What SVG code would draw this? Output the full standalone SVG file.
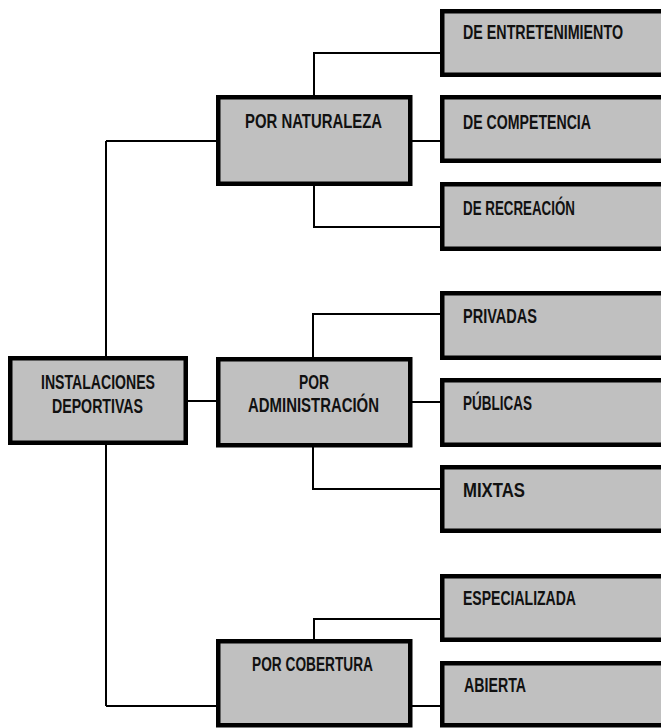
<svg xmlns="http://www.w3.org/2000/svg" width="661" height="728" viewBox="0 0 661 728">
<style>
.box{fill:#c0c0c0;stroke:#000;stroke-width:4.5}
.con{fill:none;stroke:#000;stroke-width:2}
text{font-family:"Liberation Sans Narrow","Liberation Sans",Arial,sans-serif;font-weight:bold;font-size:19.5px;fill:#111}
.c{text-anchor:middle}
</style>
<rect width="661" height="728" fill="#fff"/>
<g id="connectors">
<path class="con" d="M106,141V706M106,141H218M106,706H218M186,401H218"/>
<path class="con" d="M314,97V53H442M410,141H442M314,184V227H442"/>
<path class="con" d="M313,359V314H442M410,402H442M313,445V489H442"/>
<path class="con" d="M314,641V619H442M410,706H442"/>
</g>
<g id="n-root"><rect class="box" x="10.25" y="358.25" width="175.5" height="84.5"/>
<text class="c" x="98" y="389" textLength="114" lengthAdjust="spacingAndGlyphs">INSTALACIONES</text>
<text class="c" x="97.5" y="413" textLength="91" lengthAdjust="spacingAndGlyphs">DEPORTIVAS</text></g>
<g id="n-naturaleza"><rect class="box" x="218.25" y="97.25" width="192" height="86.5"/>
<text class="c" x="313.5" y="128" textLength="137" lengthAdjust="spacingAndGlyphs">POR NATURALEZA</text></g>
<g id="n-administracion"><rect class="box" x="218.25" y="359.25" width="192" height="86"/>
<text class="c" x="314" y="389" textLength="30" lengthAdjust="spacingAndGlyphs">POR</text>
<text class="c" x="313.5" y="412" textLength="131" lengthAdjust="spacingAndGlyphs">ADMINISTRACIÓN</text></g>
<g id="n-cobertura"><rect class="box" x="218.25" y="641.25" width="192" height="84"/>
<text class="c" x="312.5" y="671" textLength="121" lengthAdjust="spacingAndGlyphs">POR COBERTURA</text></g>
<g id="n-entretenimiento"><rect class="box" x="442.25" y="11.25" width="222" height="63.5"/>
<text x="463" y="39" textLength="160" lengthAdjust="spacingAndGlyphs">DE ENTRETENIMIENTO</text></g>
<g id="n-competencia"><rect class="box" x="442.25" y="97.25" width="222" height="63.5"/>
<text x="463" y="129" textLength="128" lengthAdjust="spacingAndGlyphs">DE COMPETENCIA</text></g>
<g id="n-recreacion"><rect class="box" x="442.25" y="184.25" width="222" height="64.5"/>
<text x="463" y="215" textLength="112" lengthAdjust="spacingAndGlyphs">DE RECREACIÓN</text></g>
<g id="n-privadas"><rect class="box" x="442.25" y="293.25" width="222" height="64.5"/>
<text x="463" y="323" textLength="74" lengthAdjust="spacingAndGlyphs">PRIVADAS</text></g>
<g id="n-publicas"><rect class="box" x="442.25" y="380.25" width="222" height="64.5"/>
<text x="463" y="410" textLength="69" lengthAdjust="spacingAndGlyphs">PÚBLICAS</text></g>
<g id="n-mixtas"><rect class="box" x="442.25" y="467.25" width="222" height="63.5"/>
<text x="463" y="497" textLength="62" lengthAdjust="spacingAndGlyphs">MIXTAS</text></g>
<g id="n-especializada"><rect class="box" x="442.25" y="576.25" width="222" height="63.5"/>
<text x="463" y="605" textLength="113" lengthAdjust="spacingAndGlyphs">ESPECIALIZADA</text></g>
<g id="n-abierta"><rect class="box" x="442.25" y="663.25" width="222" height="62"/>
<text x="464" y="692" textLength="62" lengthAdjust="spacingAndGlyphs">ABIERTA</text></g>
</svg>
